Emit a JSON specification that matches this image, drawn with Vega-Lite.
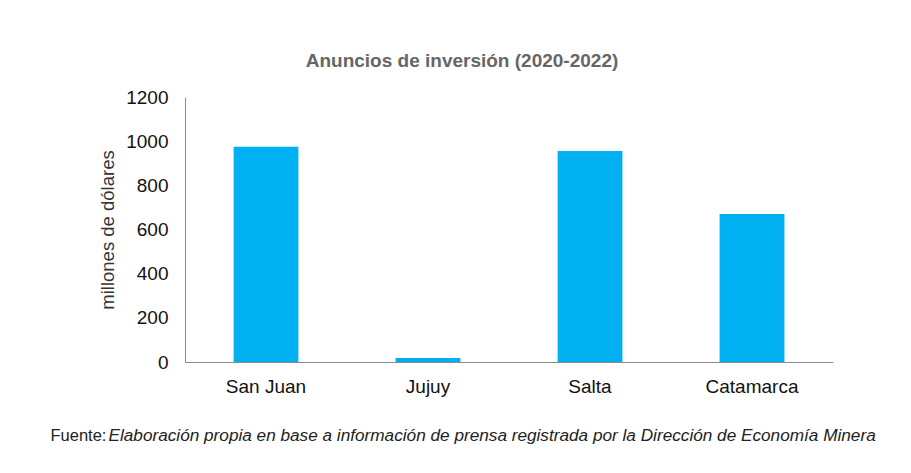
{
  "$schema": "https://vega.github.io/schema/vega-lite/v6.json",
  "autosize": {"type": "none"},
  "padding": {"left": 185, "top": 97, "right": 78, "bottom": 111},
  "width": 648,
  "height": 265,
  "background": "white",
  "title": {
    "text": "Anuncios de inversión (2020-2022)",
    "font": "Liberation Sans",
    "fontSize": 19,
    "fontWeight": "bold",
    "color": "#666666",
    "anchor": "middle",
    "baseline": "bottom",
    "dx": -47,
    "offset": -2
  },
  "config": {
    "font": "Liberation Sans",
    "view": {"stroke": null},
    "axis": {
      "grid": false,
      "ticks": false,
      "domainColor": "#8c8c8c",
      "domainWidth": 1,
      "labelFont": "Liberation Sans",
      "labelFontSize": 19,
      "labelColor": "#111111",
      "titleFont": "Liberation Sans",
      "titleFontWeight": "normal"
    }
  },
  "data": {
    "values": [
      {"provincia": "San Juan", "monto": 975},
      {"provincia": "Jujuy", "monto": 18},
      {"provincia": "Salta", "monto": 955},
      {"provincia": "Catamarca", "monto": 670}
    ]
  },
  "resolve": {"axis": {"x": "independent"}},
  "layer": [
    {
      "mark": {"type": "bar", "color": "#00B0F0"},
      "encoding": {
        "x": {
          "field": "provincia",
          "type": "nominal",
          "sort": null,
          "scale": {"paddingInner": 0.6, "paddingOuter": 0.3},
          "axis": {
            "orient": "bottom",
            "labelAngle": 0,
            "labelPadding": 15,
            "title": "Elaboración propia en base a información de prensa registrada por la Dirección de Economía Minera",
            "titleFontStyle": "italic",
            "titleFontSize": 17.2,
            "titleColor": "#222222",
            "titleAlign": "left",
            "titleAnchor": "start",
            "titleBaseline": "alphabetic",
            "titleX": -77,
            "titleY": 78
          }
        },
        "y": {
          "field": "monto",
          "type": "quantitative",
          "scale": {"domain": [0, 1200]},
          "axis": {
            "values": [0, 200, 400, 600, 800, 1000, 1200],
            "format": "d",
            "labelPadding": 17,
            "title": "millones de dólares",
            "titleFontSize": 18.5,
            "titleColor": "#333333",
            "titlePadding": 8
          }
        }
      }
    },
    {
      "mark": {"type": "bar", "opacity": 0},
      "encoding": {
        "x": {
          "field": "provincia",
          "type": "nominal",
          "sort": null,
          "axis": {
            "orient": "top",
            "domain": false,
            "labels": false,
            "title": "Fuente:",
            "titleFontStyle": "normal",
            "titleFontSize": 16.5,
            "titleColor": "#222222",
            "titleAlign": "left",
            "titleAnchor": "start",
            "titleBaseline": "alphabetic",
            "titleX": -135,
            "titleY": 343
          }
        },
        "y": {"field": "monto", "type": "quantitative"}
      }
    }
  ]
}
